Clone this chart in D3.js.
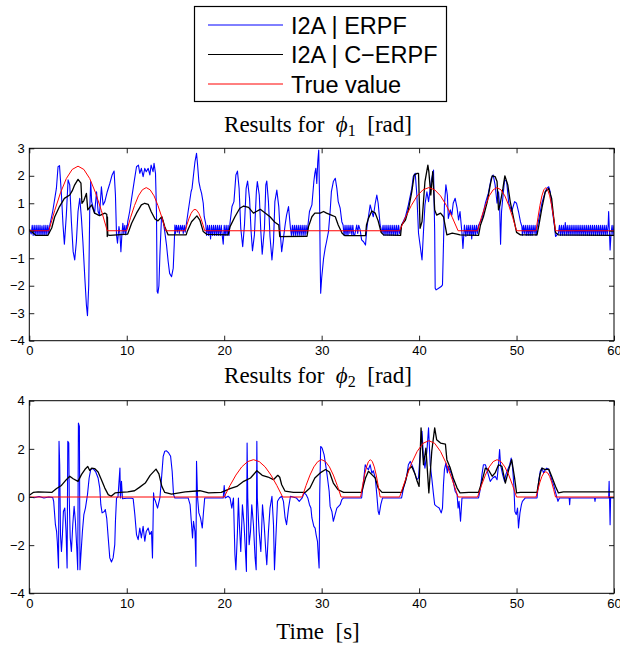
<!DOCTYPE html>
<html>
<head>
<meta charset="utf-8">
<script src="https://cdn.jsdelivr.net/npm/d3@7"></script>
<style>
  body { margin: 0; background: #fff; }
  svg { display: block; }
</style>
</head>
<body>
<div id="chart"></div>
<script>
// legend / series names
const seriesNames = ["I2A | ERPF", "I2A | C\u2212ERPF", "True value"]
const seriesColors = ["#0000ff", "#000000", "#ff0000"]

const xTicks = [0, 10, 20, 30, 40, 50, 60]
const yTicks1 = [-4, -3, -2, -1, 0, 1, 2, 3]
const yTicks2 = [-4, -2, 0, 2, 4]

// phi_1 : [time s, value rad]
const phi1Blue = [
  [0,0.05],[0.2,-0.12],
  [0.3,0.2],[0.4,-0.17],[0.5,0.2],[0.6,-0.17],[0.7,0.2],[0.8,-0.17],[0.9,0.2],[1.0,-0.17],[1.1,0.2],[1.2,-0.17],
  [1.3,0.18],[1.4,-0.17],[1.5,0.2],[1.6,-0.17],[1.7,0.2],[1.8,-0.15],[1.9,0.2],[2.0,-0.1],
  [2.1,0.2],[2.4,0.7],[2.78,1.54],[2.95,2.33],[3.1,2.37],[3.3,1.3],[3.46,0.21],[3.6,-0.49],[3.8,0.57],[3.98,1.85],
  [4.15,1.67],[4.32,0.33],[4.5,-0.76],[4.66,-1.06],[4.83,-0.4],[5.0,0.7],[5.18,1.18],[5.35,0.45],[5.5,-0.4],[5.7,-1.73],
  [5.86,-2.7],[5.97,-3.09],[6.1,-1.97],[6.2,0.7],[6.3,1.79],[6.4,1.06],[6.7,0.64],[6.9,1.42],[7.06,0.7],[7.2,0.57],
  [7.4,1.6],[7.57,0.94],[7.75,1.06],[8.0,1.42],[8.26,1.72],[8.5,2.03],[8.7,2.17],[8.84,1.3],[8.95,-0.15],[9.05,-0.45],
  [9.2,0.15],[9.3,-0.1],[9.4,-0.76],[9.5,-0.15],[9.6,0.27],[9.7,-0.1],[9.8,0.2],[9.9,-0.15],[10.0,0.2],[10.05,0.1],
  [10.1,0.33],[10.3,0.7],[10.5,1.18],[10.76,1.79],[11.0,2.33],[11.2,2.39],[11.34,2.09],[11.5,2.27],[11.68,1.97],[11.85,2.27],
  [12.0,2.15],[12.2,2.27],[12.37,2.03],[12.5,2.39],[12.7,2.15],[12.8,2.45],[12.95,2.09],[13.05,0.7],[13.12,-2.21],[13.2,-2.27],
  [13.3,-2.0],[13.4,-0.88],[13.57,0.51],[13.74,0.33],[13.9,-0.03],[14.08,-0.52],[14.25,-1.12],[14.4,-1.55],[14.6,-1.67],
  [14.77,-1.36],[14.87,-0.52],[14.94,0.21],
  [15.0,-0.1],[15.1,0.2],[15.2,-0.05],[15.3,0.2],[15.4,-0.1],[15.5,0.2],[15.6,0.0],[15.7,0.2],[15.8,-0.1],[15.9,0.2],
  [16.0,-0.05],[16.1,0.2],
  [16.3,0.7],[16.6,1.42],[16.7,1.54],[16.85,2.03],[17.0,2.51],[17.16,2.82],[17.27,2.39],[17.4,1.79],[17.54,1.54],
  [17.68,1.36],[17.85,1.0],[17.95,0.51],[18.1,0.27],
  [18.2,-0.17],[18.3,0.2],[18.4,-0.17],[18.5,0.2],[18.6,-0.3],[18.7,0.2],[18.8,-0.17],[18.9,0.2],[19.0,-0.17],
  [19.1,0.2],[19.2,-0.17],[19.3,0.2],[19.4,-0.17],[19.5,0.2],[19.6,-0.17],[19.7,0.2],[19.8,-0.17],[19.9,-0.49],
  [20.0,0.2],[20.1,-0.17],[20.2,0.2],[20.3,-0.17],[20.4,0.2],[20.5,-0.17],[20.6,0.3],
  [20.8,0.88],[21.0,1.06],[21.2,2.03],[21.36,2.17],[21.53,1.54],[21.7,0.09],[21.9,-0.58],[22.08,0.21],[22.25,1.54],
  [22.4,1.81],[22.6,1.18],[22.76,-0.03],[22.9,-0.73],[23.1,-0.15],[23.3,1.42],[23.4,1.79],[23.6,1.3],[23.76,-0.03],
  [23.9,-0.85],[24.13,0.09],[24.27,1.67],[24.37,1.81],[24.54,1.06],[24.7,-0.21],[24.9,-1.06],[25.06,-0.4],[25.2,1.06],
  [25.4,1.48],[25.6,0.88],[25.74,-0.03],[25.9,-0.76],[26.08,-0.27],[26.25,0.21],[26.4,0.57],[26.6,0.88],[26.8,0.09],
  [26.9,-0.17],[27.0,0.2],[27.1,-0.17],[27.2,0.2],[27.3,-0.17],[27.4,0.2],[27.5,-0.17],[27.6,0.2],[27.7,-0.17],
  [27.8,0.2],[27.9,-0.17],[28.0,0.2],[28.1,-0.17],[28.2,0.2],[28.3,-0.17],[28.4,0.2],[28.5,-0.1],
  [28.75,0.7],[29.0,0.94],[29.2,1.79],[29.3,2.09],[29.4,2.27],[29.5,1.72],[29.6,2.51],[29.7,2.94],[29.78,1.3],
  [29.85,-1.12],[29.9,-2.27],[30.0,-1.73],[30.2,-1.0],[30.36,-0.64],[30.5,-0.4],[30.7,-0.03],[30.87,0.7],[31.0,1.42],
  [31.2,1.79],[31.4,1.91],[31.56,1.54],[31.7,1.06],[31.9,0.82],[32.07,0.33],[32.2,0.21],
  [32.3,-0.17],[32.4,0.2],[32.5,-0.17],[32.6,0.2],[32.7,-0.17],[32.8,0.2],[32.9,-0.1],[33.0,0.2],[33.1,-0.17],
  [33.2,0.2],[33.3,-0.17],[33.4,-0.15],[33.6,0.21],[33.7,-0.1],[33.8,0.2],[33.95,0.03],
  [34.1,-0.33],[34.3,-0.4],[34.5,-0.52],[34.64,0.09],[34.8,0.51],[34.98,0.94],[35.15,0.7],[35.3,0.51],[35.5,1.0],
  [35.66,1.3],[35.8,1.0],[36.0,0.21],[36.2,-0.09],
  [36.3,0.2],[36.4,-0.17],[36.5,0.2],[36.6,-0.17],[36.7,0.2],[36.8,-0.17],[36.9,0.2],[37.0,-0.17],[37.1,0.2],
  [37.2,-0.17],[37.3,0.2],[37.4,-0.17],[37.5,0.2],[37.6,-0.17],[37.7,0.2],[37.8,-0.17],[37.9,0.2],[38.0,-0.1],
  [38.2,0.2],[38.6,0.51],[38.9,0.94],[39.25,1.54],[39.4,1.97],[39.6,2.09],[39.77,1.3],[39.94,-0.09],[40.1,-0.52],
  [40.3,-1.06],[40.45,-0.03],[40.6,0.94],[40.8,1.42],[40.97,1.06],[41.14,1.54],[41.3,1.91],[41.48,2.21],[41.6,-0.03],
  [41.65,-2.09],[41.75,-2.15],[42.0,-2.09],[42.27,-2.03],[42.4,-1.97],[42.5,-0.52],[42.6,0.94],[42.75,1.67],[42.9,1.3],
  [43.0,0.45],[43.2,0.76],[43.36,0.57],[43.5,1.0],[43.7,1.18],[43.9,0.82],[44.05,0.39],[44.2,0.7],[44.4,-0.09],
  [44.5,-0.64],[44.65,0.21],
  [44.8,-0.21],[44.9,0.2],[45.0,-0.17],[45.1,0.2],[45.2,-0.17],[45.3,0.2],[45.4,-0.3],[45.5,0.2],[45.6,-0.17],
  [45.7,0.2],[45.8,-0.17],[45.9,0.2],[46.0,-0.1],[46.1,0.2],
  [46.45,0.45],[46.8,1.0],[47.1,1.36],[47.4,1.91],[47.6,2.03],[47.8,1.67],[48.0,1.0],[48.15,1.42],[48.26,0.94],
  [48.36,-0.49],[48.46,0.7],[48.57,1.12],[48.77,1.85],[48.98,1.79],[49.2,1.0],[49.5,0.7],[49.8,1.06],[50.0,1.0],
  [50.2,0.7],[50.4,0.33],[50.55,0.15],
  [50.6,-0.17],[50.7,0.2],[50.8,-0.1],[50.9,0.2],[51.0,-0.17],[51.1,0.2],[51.2,-0.17],[51.3,0.2],[51.4,-0.17],
  [51.5,0.2],[51.6,-0.17],[51.7,0.2],[51.8,-0.1],[51.9,0.2],[52.0,-0.17],[52.1,0.1],
  [52.3,0.45],[52.6,1.0],[52.95,1.42],[53.1,1.54],[53.3,1.6],[53.45,1.42],[53.6,0.94],[53.9,0.15],[54.0,-0.21],[54.3,-0.09],
  [54.4,0.2],[54.5,-0.17],[54.6,0.2],[54.7,-0.17],[54.8,0.2],[54.9,-0.17],[55.0,0.3],[55.1,-0.17],[55.2,0.2],
  [55.3,-0.17],[55.4,0.2],[55.5,-0.17],[55.6,0.2],[55.7,-0.17],[55.8,0.2],[55.9,-0.17],[56.0,0.2],[56.1,-0.17],
  [56.2,0.2],[56.3,-0.17],[56.4,0.2],[56.5,-0.17],[56.6,0.2],[56.7,-0.17],[56.8,0.2],[56.9,-0.17],[57.0,0.2],
  [57.1,-0.17],[57.2,0.2],[57.3,-0.17],[57.4,0.2],[57.5,-0.17],[57.6,0.2],[57.7,-0.17],[57.8,0.2],[57.9,-0.17],
  [58.0,0.2],[58.1,-0.17],[58.2,0.2],[58.3,-0.17],[58.4,0.2],[58.5,-0.17],[58.6,0.2],[58.7,-0.17],[58.8,0.2],
  [58.9,-0.17],[59.0,0.2],[59.1,-0.17],[59.2,0.2],[59.3,-0.17],[59.4,0.2],
  [59.45,0.7],[59.6,-0.7],[59.7,-0.09],[59.8,0.2],[59.9,-0.17],[60,0.2]
]

const phi1Black = [
  [0,0.05],[0.3,-0.05],[0.7,-0.17],[1.9,-0.17],[2.3,0.1],[2.6,0.5],[3.1,0.88],[3.6,1.18],[4.15,1.3],[4.4,1.45],
  [4.66,1.67],[5.0,1.87],[5.3,1.73],[5.4,1.0],[5.6,1.1],[5.86,1.36],[6.0,0.76],[6.4,0.94],[6.7,0.64],[7.2,0.55],
  [7.75,0.64],[7.95,0.6],[8.0,-0.21],[8.02,0.5],[8.05,-0.15],[8.26,-0.17],[10.1,-0.12],[10.5,0.27],[11.0,0.64],
  [11.5,0.94],[11.85,1.0],[12.2,0.96],[12.5,0.7],[12.9,0.43],[13.2,0.36],[13.6,0.51],[13.9,0.15],[14.25,-0.15],
  [16.1,-0.15],[16.2,-0.03],[16.65,0.33],[17.2,0.54],[17.5,0.39],[17.85,-0.03],[18.2,-0.13],[20.4,-0.15],[20.6,0.15],
  [21.1,0.51],[21.6,0.82],[22.0,0.9],[22.5,0.85],[23.0,0.64],[23.3,0.7],[23.7,0.78],[24.0,0.7],[24.7,0.51],[25.2,0.31],
  [25.6,0.21],[25.7,-0.21],[28.5,-0.2],[28.65,0.15],[29.0,0.51],[29.3,0.64],[29.85,0.64],[30.2,0.7],[30.5,0.64],
  [31.0,0.57],[31.4,0.51],[31.7,0.21],[32.1,-0.09],[32.4,-0.18],[34.5,-0.18],[34.6,0.21],[34.8,0.45],[35.15,0.72],
  [35.5,0.64],[35.8,0.36],[36.1,-0.06],[36.35,-0.15],[38.1,-0.17],[38.2,0.21],[38.6,0.39],[38.9,0.76],[39.25,1.42],
  [39.5,2.03],[39.8,2.09],[39.94,2.09],[40.1,0.09],[40.3,0.33],[40.6,1.79],[40.9,2.39],[41.0,2.15],[41.2,1.3],
  [41.4,2.15],[41.6,0.76],[41.8,0.57],[42.2,0.64],[42.5,0.51],[42.85,-0.15],[43.4,-0.09],[43.9,-0.12],[44.2,-0.15],
  [46.1,-0.17],[46.3,0.21],[46.6,0.51],[47.0,1.06],[47.3,1.67],[47.5,2.0],[47.8,1.97],[48.0,1.79],[48.15,0.76],
  [48.3,0.94],[48.6,1.54],[48.8,2.0],[49.1,1.67],[49.35,1.06],[49.7,0.45],[50.0,-0.06],[50.4,-0.15],[52.1,-0.15],
  [52.3,0.21],[52.6,0.82],[52.95,1.42],[53.3,1.54],[53.6,1.18],[53.8,0.51],[54.0,-0.06],[54.3,-0.15],[60,-0.17]
]

const phi1True = [
  [0,0],[2,0],[2.6,0.73],[3.2,1.38],[3.8,1.90],[4.4,2.23],[5,2.35],[5.6,2.23],[6.2,1.90],[6.8,1.38],[7.4,0.73],[8,0],
  [10,0],[10.4,0.49],[10.8,0.92],[11.2,1.27],[11.6,1.49],[12,1.57],[12.4,1.49],[12.8,1.27],[13.2,0.92],[13.6,0.49],[14,0],
  [16,0],[16.2,0.24],[16.4,0.46],[16.6,0.63],[16.8,0.74],[17,0.78],[17.2,0.74],[17.4,0.63],[17.6,0.46],[17.8,0.24],[18,0],
  [38,0],[38.6,0.49],[39.2,0.92],[39.8,1.27],[40.4,1.49],[41,1.57],[41.6,1.49],[42.2,1.27],[42.8,0.92],[43.4,0.49],[44,0],
  [46,0],[46.4,0.49],[46.8,0.92],[47.2,1.27],[47.6,1.49],[48,1.57],[48.4,1.49],[48.8,1.27],[49.2,0.92],[49.6,0.49],[50,0],
  [52,0],[52.2,0.49],[52.4,0.92],[52.6,1.27],[52.8,1.49],[53,1.57],[53.2,1.49],[53.4,1.27],[53.6,0.92],[53.8,0.49],[54,0],
  [60,0]
]

// phi_2
const phi2Blue = [
  [0,0],[0.5,-0.03],[1.0,0.02],[1.5,-0.04],[2.0,0.0],[2.4,-0.02],[2.5,-0.18],[2.68,-1.15],[2.8,-1.43],[2.88,-1.9],
  [3.0,-2.95],[3.05,2.31],[3.12,1.34],[3.2,-1.56],[3.3,-2.26],[3.4,-1.56],[3.5,-0.6],[3.64,-0.46],[3.77,-1.43],
  [3.88,-2.95],[3.95,2.31],[4.05,2.24],[4.1,-0.04],[4.2,-1.7],[4.32,-2.26],[4.46,-1.15],[4.6,-0.39],[4.73,-1.0],
  [4.87,-2.12],[4.97,-3.02],[5.04,3.07],[5.14,2.93],[5.2,-3.02],[5.3,-2.39],[5.45,-1.43],[5.6,-0.73],[5.76,-0.46],
  [5.97,0.1],[6.14,0.79],[6.3,1.14],[6.55,1.18],[6.82,1.04],[7.06,0.79],[7.23,0.37],[7.34,-0.32],[7.47,-0.66],
  [7.7,-0.6],[7.8,-0.52],[7.95,-0.9],[8.1,-1.7],[8.26,-2.53],[8.43,-2.7],[8.6,-2.53],[8.77,-1.98],[8.84,-1.01],
  [8.95,-0.04],[9.1,0.0],[9.3,1.2],[9.35,-0.04],[9.46,0.65],[9.56,-0.07],[10.0,-0.05],[10.5,-0.05],[10.66,-0.07],
  [10.83,-0.73],[11.0,-1.56],[11.17,-1.77],[11.34,-1.29],[11.5,-1.7],[11.68,-1.22],[11.85,-1.84],[12.0,-1.43],
  [12.2,-1.29],[12.37,-1.56],[12.54,-1.43],[12.64,-2.53],[12.75,0.17],[12.8,-0.04],[12.95,-0.18],[13.16,-0.46],
  [13.4,-0.04],[13.57,0.79],[13.74,1.69],[13.9,1.9],[14.08,1.92],[14.3,1.83],[14.5,1.69],[14.66,1.07],[14.8,0.1],
  [14.94,-0.04],[16.3,-0.04],[16.5,-0.32],[16.65,-1.15],[16.75,-1.7],[16.85,-1.01],[17.0,-1.43],[17.1,-2.88],
  [17.16,1.48],[17.27,-0.04],[17.4,-0.66],[17.57,-0.87],[17.75,-1.29],[17.88,-0.6],[18.0,-0.04],[19.9,-0.04],
  [20.0,0.48],[20.1,-0.04],[20.4,0.03],[20.6,-0.04],[20.78,-0.46],[20.95,-0.04],[21.1,-2.39],[21.2,-3.02],
  [21.36,-1.43],[21.46,-0.04],[21.56,-1.15],[21.7,-2.26],[21.87,-0.32],[22.04,-1.15],[22.18,-2.26],[22.28,-3.09],
  [22.35,2.24],[22.42,-0.04],[22.56,-1.98],[22.7,-1.43],[22.83,-0.32],[23.0,-1.15],[23.17,-2.53],[23.28,-3.02],
  [23.35,2.31],[23.4,-0.04],[23.58,-1.43],[23.76,-2.26],[23.93,-0.32],[24.1,-1.15],[24.27,-2.26],[24.37,-2.81],
  [24.54,-1.43],[24.7,-0.46],[24.9,0.03],[25.06,-1.15],[25.16,-3.02],[25.3,-1.7],[25.47,-0.18],[25.67,-0.04],
  [25.9,0.03],[26.08,-0.18],[26.25,-0.87],[26.4,-1.15],[26.6,-0.46],[26.8,0.03],[27.4,-0.04],[27.7,-0.18],[28.0,-0.04],
  [28.2,0.17],[28.4,0.1],[28.58,-0.04],[28.75,-0.32],[28.9,-0.46],[29.0,-0.87],[29.2,-1.22],[29.33,-1.29],
  [29.43,-1.56],[29.57,-1.84],[29.67,-2.53],[29.74,-2.95],[29.8,0.1],[29.9,2.1],[30.05,2.03],[30.25,1.76],
  [30.46,1.2],[30.6,0.79],[30.77,0.24],[30.87,-0.39],[31.05,-0.6],[31.2,-1.01],[31.38,-0.73],[31.56,-0.46],
  [31.73,-0.39],[31.9,-0.32],[32.07,-0.11],[32.25,-0.04],[34.1,-0.04],[34.3,0.65],[34.47,1.34],[34.64,1.2],
  [34.8,1.14],[34.98,1.34],[35.15,0.99],[35.3,1.09],[35.5,0.79],[35.66,0.1],[35.8,-0.6],[35.9,-0.73],[36.07,-0.32],
  [36.25,-0.04],[38.2,-0.04],[38.4,0.37],[38.6,0.65],[38.75,0.93],[38.9,1.34],[39.1,1.48],[39.25,1.34],[39.4,1.2],
  [39.6,0.93],[39.77,0.72],[39.94,0.79],[40.1,1.76],[40.3,2.73],[40.45,1.62],[40.6,1.2],[40.8,1.9],[40.97,2.87],
  [41.14,1.34],[41.3,0.79],[41.48,0.1],[41.6,-0.32],[41.8,-0.39],[42.06,-0.46],[42.27,-0.66],[42.4,-0.46],[42.5,0.51],
  [42.6,1.14],[42.75,1.41],[42.9,1.0],[43.0,1.27],[43.2,1.07],[43.36,0.93],[43.5,0.65],[43.7,0.24],[43.9,0.1],
  [44.0,-0.46],[44.1,-0.18],[44.25,-1.01],[44.4,-0.04],[46.1,-0.04],[46.3,0.37],[46.45,0.93],[46.6,1.34],[46.8,1.34],
  [46.96,1.14],[47.1,0.93],[47.3,0.65],[47.55,0.79],[47.8,0.86],[48.0,0.72],[48.15,1.34],[48.26,1.97],[48.36,1.34],
  [48.57,0.93],[48.77,0.65],[48.9,0.93],[49.1,1.14],[49.3,1.34],[49.45,1.62],[49.6,1.2],[49.73,0.44],[49.83,-0.6],
  [49.97,-0.73],[50.1,-0.46],[50.2,-1.29],[50.35,-0.66],[50.5,-0.32],[50.6,-0.18],[50.9,-0.04],[52.1,-0.04],
  [52.27,0.65],[52.43,1.07],[52.6,1.2],[52.77,1.0],[52.95,1.14],[53.1,1.2],[53.3,1.14],[53.46,0.93],[53.6,0.72],
  [53.8,0.51],[53.97,0.24],[54.15,-0.04],[54.25,-0.18],[54.4,-0.04],[55.4,-0.04],[55.45,-0.32],[55.5,-0.04],
  [58.0,-0.04],[58.05,-0.18],[58.1,-0.04],[59.45,-0.04],[59.5,0.65],[59.6,-1.15],[59.65,-0.04],[60,-0.04]
]

const phi2Black = [
  [0,0.07],[0.4,0.19],[0.9,0.21],[2.3,0.19],[2.8,0.35],[3.3,0.48],[3.8,0.72],[4.15,0.86],[4.5,0.76],[5.0,0.65],
  [5.35,0.93],[5.7,1.14],[6.0,1.27],[6.2,1.1],[6.4,1.2],[6.7,1.18],[7.06,1.04],[7.4,0.72],[7.75,0.37],[8.1,0.1],
  [8.4,0.03],[8.8,0.17],[9.3,0.19],[10.1,0.21],[10.8,0.26],[11.3,0.4],[11.9,0.58],[12.4,0.9],[13.0,1.16],[13.3,0.96],
  [13.6,0.44],[13.9,0.19],[14.6,0.12],[16.0,0.21],[17.5,0.26],[18.4,0.17],[19.7,0.19],[20.6,0.35],[21.3,0.44],
  [22.0,0.65],[22.7,0.79],[23.35,1.09],[23.9,0.9],[24.5,0.83],[25.05,0.72],[25.5,0.9],[25.7,0.82],[25.9,0.51],
  [26.25,0.24],[27.1,0.19],[28.3,0.19],[28.8,0.37],[29.3,0.79],[29.85,1.0],[30.4,1.14],[30.8,1.04],[31.2,0.58],
  [31.7,0.3],[32.25,0.19],[34.1,0.19],[34.5,0.79],[34.8,1.07],[35.15,0.93],[35.5,0.79],[35.8,0.37],[36.2,0.19],
  [38.2,0.19],[38.6,0.65],[38.9,1.14],[39.25,1.27],[39.6,0.93],[39.8,0.65],[40.0,0.44],[40.2,2.87],[40.45,1.34],
  [40.7,2.03],[41.0,0.17],[41.3,1.9],[41.6,2.87],[41.8,2.38],[42.2,2.24],[42.7,2.2],[42.85,1.55],[43.2,1.2],
  [43.5,0.79],[43.9,0.37],[44.2,0.17],[45.1,0.19],[46.1,0.19],[46.45,0.65],[46.8,1.2],[47.1,1.14],[47.5,0.86],
  [47.8,1.0],[48.15,1.34],[48.5,1.27],[48.85,0.58],[49.2,1.14],[49.5,1.55],[49.8,0.79],[50.0,0.17],[50.4,0.19],
  [52.1,0.19],[52.4,0.93],[52.6,1.2],[52.95,1.14],[53.3,1.16],[53.6,0.86],[54.0,0.44],[54.3,0.17],[54.8,0.21],[60,0.21]
]

const phi2True = [
  [0,0],[20,0],[20.6,0.48],[21.2,0.91],[21.8,1.25],[22.4,1.47],[23,1.55],[23.6,1.47],[24.2,1.25],[24.8,0.91],[25.4,0.48],[26,0],
  [28,0],[28.4,0.48],[28.8,0.91],[29.2,1.25],[29.6,1.47],[30,1.55],[30.4,1.47],[30.8,1.25],[31.2,0.91],[31.6,0.48],[32,0],
  [34,0],[34.2,0.48],[34.4,0.91],[34.6,1.25],[34.8,1.47],[35,1.55],[35.2,1.47],[35.4,1.25],[35.6,0.91],[35.8,0.48],[36,0],
  [38,0],[38.6,0.72],[39.2,1.38],[39.8,1.89],[40.4,2.23],[41,2.34],[41.6,2.23],[42.2,1.89],[42.8,1.38],[43.4,0.72],[44,0],
  [46,0],[46.4,0.48],[46.8,0.91],[47.2,1.25],[47.6,1.47],[48,1.55],[48.4,1.47],[48.8,1.25],[49.2,0.91],[49.6,0.48],[50,0],
  [52,0],[52.2,0.32],[52.4,0.62],[52.6,0.85],[52.8,1.0],[53,1.05],[53.2,1.0],[53.4,0.85],[53.6,0.62],[53.8,0.32],[54,0],
  [60,0]
]

const W = 620, H = 646
const sans = "'Liberation Sans', Arial, sans-serif"
const serif = "'Liberation Serif', 'Times New Roman', serif"

const svg = d3.select("#chart").append("svg")
    .attr("width", W)
    .attr("height", H)

const x = d3.scaleLinear().domain([0, 60]).range([29.3, 614])

function drawPanel(id, top, bottom, yDomain, yTicks, series, titleY, sub) {
    const y = d3.scaleLinear().domain(yDomain).range([bottom, top])

    svg.append("clipPath").attr("id", id)
        .append("rect")
        .attr("x", x(0)).attr("y", top)
        .attr("width", x(60) - x(0)).attr("height", bottom - top)

    const g = svg.append("g")

    // series lines
    const line = d3.line().x(d => x(d[0])).y(d => y(d[1]))
    const widths = [1.1, 1.3, 1]
    series.forEach((s, i) => {
        g.append("path")
            .datum(s)
            .attr("clip-path", `url(#${id})`)
            .attr("fill", "none")
            .attr("stroke", seriesColors[i])
            .attr("stroke-width", widths[i])
            .attr("stroke-linejoin", "round")
            .attr("d", line)
    })

    // axes, ticks pointing inward on all four sides
    const axes = [
        [d3.axisBottom(x).tickValues(xTicks).tickFormat(d3.format("d")), `translate(0,${bottom})`],
        [d3.axisTop(x).tickValues(xTicks).tickFormat(""), `translate(0,${top})`],
        [d3.axisLeft(y).tickValues(yTicks).tickFormat(d3.format("d")), `translate(${x(0)},0)`],
        [d3.axisRight(y).tickValues(yTicks).tickFormat(""), `translate(${x(60)},0)`]
    ]
    axes.forEach(([ax, tr], i) => {
        const a = g.append("g")
            .attr("transform", tr)
            .call(ax.tickSize(-5).tickPadding(i == 0 ? 5.5 : 4.5))
        a.select(".domain").remove()
        a.selectAll("line").attr("stroke", "#222")
        a.selectAll("text")
            .attr("fill", "#000")
            .style("font-family", sans)
            .style("font-size", "13px")
    })

    g.append("rect")
        .attr("x", x(0)).attr("y", top)
        .attr("width", x(60) - x(0)).attr("height", bottom - top)
        .attr("fill", "none")
        .attr("stroke", "#000")
        .attr("stroke-width", 1)

    // title: Results for phi_n [rad]
    const t = svg.append("text")
        .attr("x", 318).attr("y", titleY)
        .attr("text-anchor", "middle")
        .style("font-family", serif)
        .style("font-size", "23px")
    t.append("tspan").text("Results for\u2002")
    t.append("tspan").style("font-style", "italic").text("\u03d5")
    t.append("tspan").attr("dy", 4).style("font-size", "16px").text(sub)
    t.append("tspan").attr("dy", -4).text("\u2002[rad]")
}

drawPanel("clip1", 148.3, 340.7, [-4, 3], yTicks1, [phi1Blue, phi1Black, phi1True], 131.7, "1")
drawPanel("clip2", 400.7, 593.3, [-4, 4], yTicks2, [phi2Blue, phi2Black, phi2True], 383.3, "2")

// x label
svg.append("text")
    .attr("x", 318).attr("y", 639)
    .attr("text-anchor", "middle")
    .style("font-family", serif)
    .style("font-size", "23px")
    .text("Time\u2002[s]")

// legend
const leg = svg.append("g")
leg.append("rect")
    .attr("x", 194.5).attr("y", 6.5)
    .attr("width", 252).attr("height", 95)
    .attr("fill", "#fff")
    .attr("stroke", "#000")
    .attr("stroke-width", 1.2)

const rowY = [25, 54.5, 84]
seriesNames.forEach((name, i) => {
    leg.append("line")
        .attr("x1", 208).attr("x2", 283)
        .attr("y1", rowY[i]).attr("y2", rowY[i])
        .attr("stroke", seriesColors[i])
        .attr("stroke-width", 1)
    leg.append("text")
        .attr("x", 291).attr("y", rowY[i] + 8.6)
        .style("font-family", sans)
        .style("font-size", "23.5px")
        .text(name)
})
</script>
</body>
</html>
